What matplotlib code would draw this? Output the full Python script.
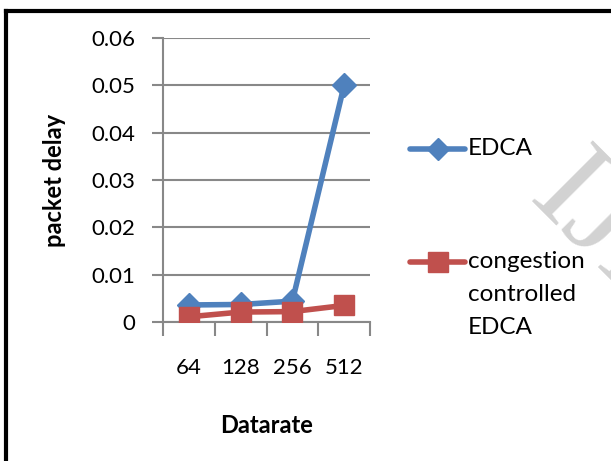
import matplotlib
matplotlib.use("Agg")
import matplotlib.pyplot as plt
from matplotlib.lines import Line2D
import numpy as np

categories = ["64", "128", "256", "512"]
edca = [0.0036, 0.0037, 0.0044, 0.05]
cc_edca = [0.0011, 0.0021, 0.0022, 0.0035]
yticks = [0, 0.01, 0.02, 0.03, 0.04, 0.05, 0.06]
ytick_labels = ["0", "0.01", "0.02", "0.03", "0.04", "0.05", "0.06"]
series_labels = ["EDCA", "congestion\ncontrolled\nEDCA"]

plt.rcParams['font.family'] = ['Lato', 'DejaVu Sans']

W, H = 611, 461
fig = plt.figure(figsize=(W/100, H/100), dpi=100)
ax = fig.add_axes([163/W, 1-322/H, (370-163)/W, (322-38)/H])

x = np.arange(len(categories))
blue = '#4F81BD'
red = '#C0504D'
lw = 4.0
ax.plot(x, edca, color=blue, lw=lw, marker='D', ms=12, mec=blue, mfc=blue,
        zorder=3, solid_capstyle='round', solid_joinstyle='round')
ax.plot(x, cc_edca, color=red, lw=lw, marker='s', ms=14, mec=red, mfc=red,
        zorder=4, solid_capstyle='round', solid_joinstyle='round')

ax.set_xlim(-0.5, len(categories) - 0.5)
ax.set_ylim(0, 0.06)
ax.set_yticks(yticks)
ax.set_yticklabels(ytick_labels)
ax.set_xticks(x)
ax.set_xticklabels(categories)
ax.set_xticks(np.arange(len(categories) + 1) - 0.5, minor=True)
ax.tick_params(axis='x', which='major', length=0, pad=26, labelsize=16)
ax.tick_params(axis='x', which='minor', length=10, width=1.5, color='#888888')
ax.tick_params(axis='y', length=8, width=1.5, color='#888888', labelsize=16, pad=12)
ax.grid(axis='y', color='#888888', lw=1.5)
ax.set_axisbelow(True)
for s in ['top', 'right']:
    ax.spines[s].set_visible(False)
for s in ['left', 'bottom']:
    ax.spines[s].set_color('#888888')
    ax.spines[s].set_linewidth(1.5)

ax.set_xlabel('Datarate', fontsize=17, fontweight='bold', labelpad=26)
ax.set_ylabel('packet delay', fontsize=17, fontweight='bold', labelpad=18)

# legend (Excel style: handle aligned with first label line)
def legend_entry(y, color, marker, ms, label):
    yf = 1 - y/H
    fig.add_artist(Line2D([410/W, 437.5/W, 465/W], [yf, yf, yf], transform=fig.transFigure,
                          color=color, lw=lw, marker=marker, ms=ms, markevery=[1],
                          mec=color, mfc=color, solid_capstyle='round'))
    fig.text(468/W, 1 - (y - 11)/H, label, fontsize=17.5, va='top', ha='left',
             linespacing=1.72, transform=fig.transFigure)

legend_entry(149, blue, 'D', 11, series_labels[0])
legend_entry(262, red, 's', 14, series_labels[1])

# watermark
fig.text(526/W, 1-200/H, 'IJERT', rotation=-45, rotation_mode='anchor', color='#d2d2d2',
         fontsize=95, family='Liberation Serif', ha='left', va='baseline', zorder=0)

# border lines
fig.add_artist(Line2D([6/W, 6/W], [0, 1-11/H], transform=fig.transFigure, color='black', lw=3))
fig.add_artist(Line2D([6/W, 1], [1-11/H, 1-11/H], transform=fig.transFigure, color='black', lw=3))

fig.savefig('out.png', dpi=100)
